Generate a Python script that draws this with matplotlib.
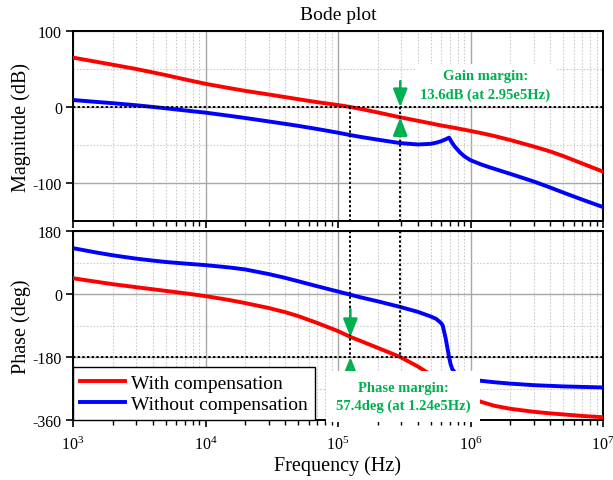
import numpy as np
import matplotlib
matplotlib.use("Agg")
import matplotlib.pyplot as plt
from matplotlib.ticker import LogLocator, MultipleLocator, NullFormatter

plt.rcParams["font.family"] = "serif"
plt.rcParams["font.serif"] = ["Liberation Serif", "DejaVu Serif"]
plt.rcParams["mathtext.fontset"] = "stix"
plt.rcParams["axes.unicode_minus"] = False

# -----------------------------
# Loop gain data (read-off values)
# -----------------------------

# compensated loop: shared frequency grid (Hz)
f_comp = [1e3, 1.5e3, 2e3, 3e3, 4e3, 5e3, 7e3, 1e4, 1.5e4, 2e4, 3e4, 4e4,
          5e4, 7e4, 1e5, 1.24e5, 1.5e5, 2e5, 2.95e5, 4e5, 5e5, 6e5, 7e5,
          8e5, 1e6, 1.2e6, 1.5e6, 2e6, 3e6, 4e6, 5e6, 7e6, 1e7]
mag_comp = [65, 59.5, 55.6, 50, 45.5, 42, 36.3, 30.5, 25, 21.2, 16.5, 13,
            10.3, 6.3, 2.6, 0, -2.7, -7.2, -13.6, -18.1, -21.5, -24.3, -26.3,
            -28.2, -31.5, -34.3, -38, -43.5, -52, -58.5, -64.5, -74.5, -85]
ph_comp = [45, 35, 28, 19.5, 13.5, 9, 2, -6, -17, -26, -40, -52,
           -63, -83, -106, -122.6, -135, -154, -180, -207, -230, -249, -265,
           -278, -296, -308, -319, -328, -336.5, -341, -344, -348.5, -352]

# uncompensated loop: magnitude (dB)
f_mag_open = [1e3, 1.5e3, 2e3, 3e3, 4e3, 5e3, 7e3, 1e4, 1.5e4, 2e4, 3e4,
              4e4, 5e4, 7e4, 1e5, 1.24e5, 1.5e5, 2e5, 2.95e5, 4e5, 5e5,
              5.5e5, 6e5, 6.5e5, 6.89e5, 7.2e5, 7.6e5, 8.3e5, 9e5, 1e6,
              1.2e6, 1.4e6, 2e6, 3e6, 4e6, 5e6, 7e6, 1e7]
mag_open = [9.2, 6.7, 5.0, 2.3, 0.1, -1.7, -4.5, -7.4, -11.5, -14.5, -19,
            -22.2, -24.8, -29, -33.8, -37, -39.5, -43, -47.5, -49.3, -48.5,
            -47, -45, -42.5, -40.3, -46, -52, -59.5, -65, -70,
            -75.5, -79.5, -88, -98, -106, -112.5, -122, -131.6]

# uncompensated loop: phase (deg)
f_ph_open = [1e3, 1.5e3, 2e3, 3e3, 4e3, 5e3, 7e3, 1e4, 1.5e4, 2e4, 3e4,
             4e4, 5e4, 7e4, 1e5, 1.24e5, 1.5e5, 2e5, 2.95e5, 4e5, 5e5,
             5.5e5, 6e5, 6.17e5, 6.31e5, 6.49e5, 6.65e5, 6.89e5, 7.08e5,
             7.28e5, 7.6e5, 8e5, 9e5, 1e6, 1.2e6, 1.5e6, 2e6, 3e6, 5e6, 1e7]
ph_open = [131, 118.5, 110.5, 101, 95.5, 91.5, 87, 82.5, 76, 70, 57,
           46, 36.5, 22, 7, -2, -10, -21, -37, -51, -64,
           -71, -83, -90, -106, -126, -148, -180, -201,
           -214, -224, -231, -239, -243.5, -248, -252, -256, -260.5, -264, -267]

# stability margins
gm_freq = 2.95e5
gm_db = 13.6
pm_freq = 1.24e5
pm_deg = 57.4

RED = "#ff0000"
BLUE = "#0000ff"
GREEN = "#00b050"

# -----------------------------
# Figure layout
# -----------------------------

fig = plt.figure(figsize=(6.13, 4.81), dpi=100)
ax_mag = fig.add_axes([73 / 613, 1 - 222 / 481, 530 / 613, 190 / 481])
ax_ph = fig.add_axes([73 / 613, 1 - 421 / 481, 530 / 613, 189 / 481])


def style_axes(ax, ymin, ymax, ystep, yminor):
    ax.set_xscale("log")
    ax.set_xlim(1e3, 1e7)
    ax.set_ylim(ymin, ymax)
    ax.yaxis.set_major_locator(MultipleLocator(ystep))
    ax.yaxis.set_minor_locator(MultipleLocator(yminor))
    ax.xaxis.set_major_locator(LogLocator(base=10))
    ax.xaxis.set_minor_locator(LogLocator(base=10, subs=np.arange(2, 10)))
    ax.xaxis.set_minor_formatter(NullFormatter())
    ax.grid(which="major", color="#a8a8a8", lw=1.0, ls="-", zorder=0)
    ax.grid(which="minor", color="#cccccc", lw=0.8, ls=(0, (1.5, 1.5)), zorder=0)
    ax.set_axisbelow(True)
    for sp in ax.spines.values():
        sp.set_linewidth(1.4)
        sp.set_color("black")
    ax.tick_params(axis="both", which="major", direction="out", length=5,
                   width=1.2, labelsize=11.5, pad=3)
    ax.tick_params(axis="x", which="major", pad=6)
    ax.tick_params(axis="x", which="minor", direction="out", length=3.5, width=1.0)
    ax.tick_params(axis="y", which="minor", length=0)


style_axes(ax_mag, -150, 100, 100, 50)
style_axes(ax_ph, -360, 180, 180, 90)
ax_mag.tick_params(axis="x", which="both", labelbottom=False)

# curves
ax_mag.plot(f_comp, mag_comp, color=RED, lw=2.8, zorder=3)
ax_mag.plot(f_mag_open, mag_open, color=BLUE, lw=2.8, zorder=3)
ax_ph.plot(f_comp, ph_comp, color=RED, lw=2.8, zorder=3, label="With compensation")
ax_ph.plot(f_ph_open, ph_open, color=BLUE, lw=2.8, zorder=3, label="Without compensation")

# reference lines (0 dB / -180 deg and the two crossover frequencies)
dot = dict(color="black", lw=1.4, ls=(0, (1.2, 1.2)), zorder=4)
ax_mag.axhline(0, **dot)
ax_ph.axhline(-180, **dot)
for f in (pm_freq, gm_freq):
    ax_mag.plot([f, f], [0, -150], **dot)
    ax_ph.plot([f, f], [180, -180], **dot)

# margin arrows
arrow = dict(arrowstyle="-|>,head_length=0.6,head_width=0.24", color=GREEN,
             lw=1.8, shrinkA=0, shrinkB=0, mutation_scale=18)
ax_mag.annotate("", xy=(gm_freq, 0), xytext=(gm_freq, 34), arrowprops=arrow, zorder=5)
ax_mag.annotate("", xy=(gm_freq, -gm_db), xytext=(gm_freq, -33), arrowprops=arrow, zorder=5)
ax_ph.annotate("", xy=(pm_freq, -180 + pm_deg), xytext=(pm_freq, -43), arrowprops=arrow, zorder=5)
ax_ph.annotate("", xy=(pm_freq, -180), xytext=(pm_freq, -242), arrowprops=arrow, zorder=5)

ax_mag.text(1.29e6, 29, f"Gain margin:\n{gm_db}dB (at {gm_freq:.2e}Hz)".replace("e+0", "e"),
            color=GREEN, fontsize=10.5, fontweight="bold", ha="center", va="center",
            linespacing=1.45, bbox=dict(facecolor="white", edgecolor="none", pad=4),
            zorder=6)
ax_ph.text(3.1e5, -292, f"Phase margin:\n{pm_deg}deg (at {pm_freq:.2e}Hz)".replace("e+0", "e"),
           color=GREEN, fontsize=10.5, fontweight="bold", ha="center", va="center",
           linespacing=1.45, bbox=dict(facecolor="white", edgecolor="none", pad=7),
           zorder=6)

# labels and legend
ax_mag.set_title("Bode plot", fontsize=14, pad=9)
ax_mag.set_ylabel("Magnitude (dB)", fontsize=14.5)
ax_ph.set_ylabel("Phase (deg)", fontsize=14.5)
ax_mag.yaxis.set_label_coords(-0.08, 0.5)
ax_ph.yaxis.set_label_coords(-0.08, 0.5)
ax_ph.set_xlabel("Frequency (Hz)", fontsize=14.5, labelpad=2)

leg = ax_ph.legend(loc="lower left", bbox_to_anchor=(0, 0), borderaxespad=0,
                   fontsize=14, handlelength=2.3, handletextpad=0.35,
                   labelspacing=0.2, borderpad=0.35, fancybox=False,
                   framealpha=1, edgecolor="black")
leg.get_frame().set_linewidth(1.0)
leg.set_zorder(7)

fig.savefig("out.png", dpi=100)
